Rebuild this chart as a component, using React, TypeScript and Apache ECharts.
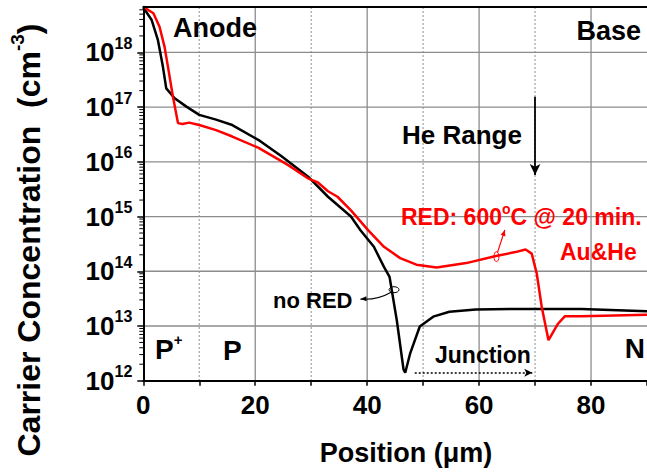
import React, { useEffect, useRef } from "react";
import * as echarts from "echarts";

// ---- data ----
const positionNoRed = [0, 1.5, 2.6, 3.5, 4.1, 5.6, 7.7, 10, 13, 15.9, 20.6, 24.7, 29.4, 33, 37.1, 38.8, 41.2, 43, 44, 45.3, 46.5, 46.8, 47.7, 49.4, 51.8, 54.7, 59.4, 66.5, 78.3, 90];
const concNoRed = [6.6e18, 3.9e18, 1.7e18, 5.5e17, 2.2e17, 1.45e17, 1.02e17, 7.2e16, 5.9e16, 4.7e16, 2.5e16, 1.26e16, 5.4e15, 2.3e15, 1.0e15, 5.6e14, 2.8e14, 1.2e14, 7.9e13, 1.26e13, 1.6e12, 1.4e12, 3.2e12, 9.8e12, 1.48e13, 1.82e13, 2.0e13, 2.05e13, 2.05e13, 1.85e13];

const positionRed = [0, 1.8, 2.9, 3.8, 4.4, 5.3, 6.2, 7, 8.2, 10, 13, 15.9, 20.6, 25.9, 29.4, 31.2, 33, 34.7, 37.1, 40.2, 43, 45.9, 48.8, 52.4, 57.7, 63, 66.5, 68.3, 69.4, 70.3, 71.2, 72.4, 74.1, 75.3, 78.3, 90];
const concRed = [6.8e18, 5.2e18, 2.95e18, 1.26e18, 5.5e17, 1.55e17, 5.1e16, 4.9e16, 5.2e16, 4.7e16, 3.8e16, 2.9e16, 1.8e16, 8.7e15, 5.0e15, 4.2e15, 2.9e15, 2.3e15, 1.3e15, 5.6e14, 2.8e14, 1.74e14, 1.32e14, 1.17e14, 1.41e14, 1.9e14, 2.24e14, 2.5e14, 2.1e14, 9.1e13, 2.2e13, 5.5e12, 1.1e13, 1.5e13, 1.5e13, 1.6e13];

const xTicks = [0, 20, 40, 60, 80];
const xSolidGrid = [20, 40, 60, 80];
const xDottedGrid = [10, 30, 50, 70];
const yDecades = [1e13, 1e14, 1e15, 1e16, 1e17, 1e18];
const xMin = 0;
const xMax = 90;
const yMin = 1e12;
const yMax = 6.84e18;

const FONT = '"Liberation Sans", Arial, Helvetica, sans-serif';
const GRID_COLOR = "#8c8c8c";
const DOT_COLOR = "#8c8c8c";

function arrowHead(tip: number[], from: number[], len: number, half: number) {
  const dx = tip[0] - from[0];
  const dy = tip[1] - from[1];
  const d = Math.hypot(dx, dy) || 1;
  const ux = dx / d, uy = dy / d;
  const bx = tip[0] - ux * len, by = tip[1] - uy * len;
  return [
    [tip[0], tip[1]],
    [bx - uy * half, by + ux * half],
    [bx + uy * half, by - ux * half],
  ];
}

export default function App() {
  const ref = useRef<HTMLDivElement>(null);
  useEffect(() => {
    if (!ref.current) return;
    const chart = echarts.init(ref.current, undefined, { renderer: "svg" });

    const minorVals: number[][] = [];
    for (let n = 12; n <= 18; n++) {
      for (let k = 2; k <= 9; k++) {
        const v = k * Math.pow(10, n);
        if (v < yMax) minorVals.push([0, v]);
      }
    }

    // grid lines: [x1, y1, x2, y2, dotted]
    const gridLines: number[][] = [
      ...xSolidGrid.map((x) => [x, yMin, x, yMax, 0]),
      ...xDottedGrid.map((x) => [x, yMin, x, yMax, 1]),
      ...yDecades.map((y) => [xMin, y, xMax, y, 0]),
    ];

    const txt = (text: string, x: number, y: number, size: number, color: string, align: string, extra: any = {}) => ({
      type: "text",
      x,
      y,
      z: 100,
      silent: true,
      style: {
        text,
        x: 0,
        y: 0,
        fill: color,
        fontSize: size,
        fontWeight: "bold",
        fontFamily: FONT,
        align,
        verticalAlign: "middle",
        textAlign: align,
        textVerticalAlign: "middle",
        ...extra,
      },
    });

    const option: any = {
      animation: false,
      backgroundColor: "#fff",
      grid: {
        left: 143.3,
        right: -6.15,
        top: 6.7,
        bottom: 92.3,
        show: false,
      },
      xAxis: [
        {
          type: "value",
          min: xMin,
          max: xMax,
          interval: 20,
          z: 6,
          axisLine: { show: true, onZero: false, lineStyle: { color: "#000", width: 2 } },
          axisTick: { show: true, length: 5, lineStyle: { color: "#000", width: 1.5 } },
          minorTick: { show: true, splitNumber: 2, length: 5, lineStyle: { color: "#000", width: 1.5 } },
          splitLine: { show: false },
          axisLabel: {
            showMaxLabel: false,
            margin: 11,
            fontSize: 26,
            fontWeight: "bold",
            fontFamily: FONT,
            color: "#000",
            formatter: (v: number) => (xTicks.indexOf(v) >= 0 ? String(v) : ""),
          },
        },
        {
          type: "value",
          position: "top",
          min: xMin,
          max: xMax,
          interval: 20,
          z: 6,
          axisLine: { show: true, onZero: false, lineStyle: { color: "#000", width: 2 } },
          axisTick: { show: false },
          axisLabel: { show: false },
          splitLine: { show: false },
        },
      ],
      yAxis: {
        type: "log",
        logBase: 10,
        min: yMin,
        max: yMax,
        z: 6,
        axisLine: { show: true, onZero: false, lineStyle: { color: "#000", width: 2 } },
        axisTick: { show: true, length: 6, lineStyle: { color: "#000", width: 1.5 } },
        splitLine: { show: false },
        axisLabel: {
          showMaxLabel: false,
          margin: 11,
          formatter: (v: number) => {
            const n = Math.round(Math.log10(v));
            return `{b|10}{s|${n}}`;
          },
          rich: {
            b: { fontSize: 26, fontWeight: "bold", fontFamily: FONT, color: "#000", lineHeight: 34 },
            s: { fontSize: 16, fontWeight: "bold", fontFamily: FONT, color: "#000", lineHeight: 12, verticalAlign: "top" },
          },
        },
      },
      series: [
        {
          type: "custom",
          name: "gridLines",
          silent: true,
          clip: false,
          z: 1,
          dimensions: ["x1", "y1", "x2", "y2", "dotted"],
          encode: { x: [0, 2], y: [1, 3] },
          renderItem: (params: any, api: any) => {
            const p1 = api.coord([api.value(0), api.value(1)]);
            const p2 = api.coord([api.value(2), api.value(3)]);
            const dotted = api.value(4) === 1;
            if (dotted) {
              return {
                type: "line",
                shape: { x1: p1[0], y1: p1[1], x2: p2[0], y2: p2[1] },
                style: { stroke: DOT_COLOR, lineWidth: 1.3, lineDash: [1.5, 2.5] },
              };
            }
            const vertical = Math.abs(p1[0] - p2[0]) < 0.01;
            const w = 1.3;
            const shape = vertical
              ? { x: p1[0] - w / 2, y: Math.min(p1[1], p2[1]), width: w, height: Math.abs(p2[1] - p1[1]) }
              : { x: Math.min(p1[0], p2[0]), y: p1[1] - w / 2, width: Math.abs(p2[0] - p1[0]), height: w };
            return {
              type: "rect",
              shape,
              style: { fill: GRID_COLOR, stroke: null },
            };
          },
          data: gridLines,
        },
        {
          type: "custom",
          name: "minorTicks",
          silent: true,
          clip: false,
          renderItem: (params: any, api: any) => {
            const p = api.coord([0, api.value(1)]);
            return {
              type: "line",
              shape: { x1: p[0] - 4, y1: p[1], x2: p[0], y2: p[1] },
              style: { stroke: "#000", lineWidth: 1 },
            };
          },
          data: minorVals,
          z: 5,
        },
        {
          type: "line",
          name: "no RED",
          data: positionNoRed.map((x, i) => [x, concNoRed[i]]),
          showSymbol: false,
          symbol: "none",
          lineStyle: { color: "#000", width: 2.5 },
          z: 3,
          markLine: {
            silent: true,
            symbol: ["none", "arrow"],
            symbolSize: [8, 11],
            label: { show: false },
            lineStyle: { color: "#000", width: 1.8, type: "solid" },
            data: [[{ coord: [70, 1.55e17] }, { coord: [70, 5.75e15] }]],
          },
        },
        {
          type: "line",
          name: "RED: 600°C @ 20 min.",
          data: positionRed.map((x, i) => [x, concRed[i]]),
          showSymbol: false,
          symbol: "none",
          lineStyle: { color: "#ff0000", width: 2.5 },
          z: 4,
          markLine: {
            silent: true,
            symbol: ["none", "arrow"],
            symbolSize: [6, 8],
            label: { show: false },
            lineStyle: { color: "#000", width: 1.5, type: [2, 2] },
            data: [[{ coord: [48.5, 1.4e12] }, { coord: [69.5, 1.4e12] }]],
          },
        },
      ],
    };
    chart.setOption(option);

    const px = (x: number, y: number) => chart.convertToPixel({ gridIndex: 0 }, [x, y]) as number[];

    // small annotation arrows
    const redLoop = px(63.1, 1.85e14);
    const redTip = px(64.6, 5.7e14);
    const blackLoop = px(44.8, 4.6e13);
    const blackTip = px(38.8, 3.1e13);
    const blackMid = [(blackLoop[0] + blackTip[0]) / 2, (blackLoop[1] + blackTip[1]) / 2 - 4];

    const graphics: any[] = [
      txt("Anode", 173, 28, 27, "#000", "left"),
      txt("Base", 641, 31, 27, "#000", "right"),
      txt("He Range", 402, 135, 26, "#000", "left"),
      txt("RED: 600{o|o}C @ 20 min.", 401, 217, 23, "#ff0000", "left", {
        lineHeight: 30,
        rich: { o: { fontSize: 14, fontWeight: "bold", fontFamily: FONT, fill: "#ff0000", lineHeight: 12, verticalAlign: "top" } },
      }),
      txt("Au&He", 560, 252, 23, "#ff0000", "left"),
      txt("no RED", 273, 300, 22, "#000", "left"),
      txt("P{p|+}", 155, 349, 28, "#000", "left", {
        lineHeight: 34,
        rich: { p: { fontSize: 15, fontWeight: "bold", fontFamily: FONT, fill: "#000", lineHeight: 12, verticalAlign: "top" } },
      }),
      txt("P", 223, 350, 28, "#000", "left"),
      txt("N", 645, 348, 28, "#000", "right"),
      txt("Junction", 435, 355, 23, "#000", "left"),
      txt("Position (\u03bcm)", 406, 453, 27, "#000", "center"),
      {
        type: "text",
        x: 29,
        y: 240,
        rotation: Math.PI / 2,
        z: 100,
        silent: true,
        style: {
          text: "Carrier Concentration  (cm{s|-3})",
          x: 0,
          y: 0,
          fill: "#000",
          fontSize: 32,
          fontWeight: "bold",
          fontFamily: FONT,
          lineHeight: 42,
          align: "center",
          verticalAlign: "middle",
          textAlign: "center",
          textVerticalAlign: "middle",
          rich: { s: { fontSize: 19, fontWeight: "bold", fontFamily: FONT, fill: "#000", lineHeight: 12, verticalAlign: "top" } },
        },
      },
      // red arrow with loop
      {
        type: "ellipse",
        z: 100,
        silent: true,
        shape: { cx: redLoop[0], cy: redLoop[1], rx: 2.5, ry: 5 },
        style: { fill: "none", stroke: "#ff0000", lineWidth: 1 },
      },
      {
        type: "line",
        z: 100,
        silent: true,
        shape: { x1: redLoop[0] + 1, y1: redLoop[1] - 4, x2: redTip[0], y2: redTip[1] },
        style: { stroke: "#ff0000", lineWidth: 1.2 },
      },
      {
        type: "polygon",
        z: 100,
        silent: true,
        shape: { points: arrowHead(redTip, [redLoop[0] + 1, redLoop[1] - 4], 6, 2.5) },
        style: { fill: "#ff0000" },
      },
      // black arrow with loop
      {
        type: "ellipse",
        z: 100,
        silent: true,
        shape: { cx: blackLoop[0], cy: blackLoop[1], rx: 5, ry: 3 },
        style: { fill: "none", stroke: "#000", lineWidth: 1 },
      },
      {
        type: "bezierCurve",
        z: 100,
        silent: true,
        shape: { x1: blackLoop[0] - 2, y1: blackLoop[1] + 2, cpx1: blackMid[0], cpy1: blackMid[1] + 10, x2: blackTip[0], y2: blackTip[1] },
        style: { stroke: "#000", lineWidth: 1.2, fill: "none" },
      },
      {
        type: "polygon",
        z: 100,
        silent: true,
        shape: { points: arrowHead(blackTip, [blackTip[0] + 8, blackTip[1] - 0.5], 6, 2.5) },
        style: { fill: "#000" },
      },
    ];
    chart.setOption({ graphic: graphics });

    return () => chart.dispose();
  }, []);

  return (
    <div
      ref={ref}
      style={{ position: "fixed", left: 0, top: 0, width: 647, height: 473, background: "#fff" }}
    />
  );
}
